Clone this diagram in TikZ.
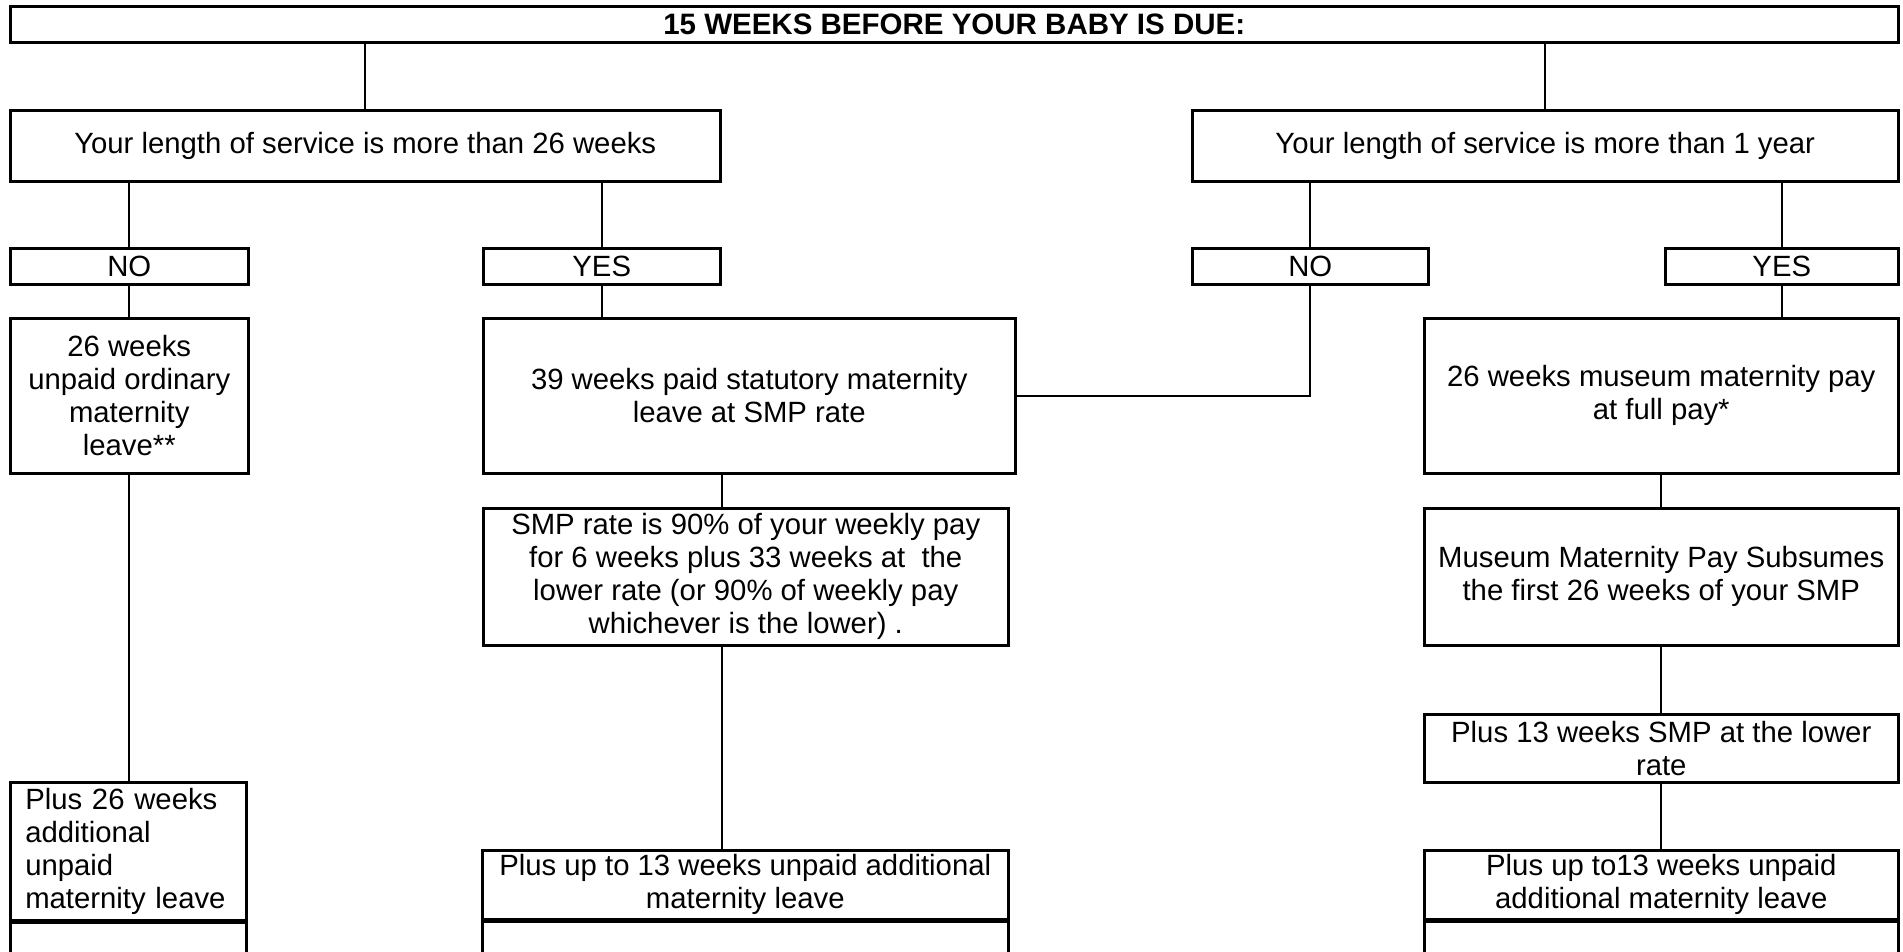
\documentclass[tikz,border=0pt]{standalone}
\usepackage{fontspec}
\setmainfont{Liberation Sans}
\usetikzlibrary{calc}
\tikzset{
  box/.style={draw, line width=2.5pt, inner sep=0pt, anchor=north west, align=center,
              font=\fontsize{29.3}{33}\selectfont},
  conn/.style={line width=2pt},
}
\begin{document}
\begin{tikzpicture}[x=1pt,y=-1pt]
\useasboundingbox (0,0) rectangle (1903,951);
\clip (0,0) rectangle (1903,951);
% title
\node[box, minimum width=1888pt, minimum height=36pt, font=\fontsize{29.5}{32}\selectfont\bfseries] (title) at (9,5) {15 WEEKS BEFORE YOUR BABY IS DUE:};
% service boxes
\node[box, minimum width=710pt, minimum height=71pt] (s26) at (9,109) {Your length of service is more than 26 weeks};
\node[box, minimum width=706pt, minimum height=71pt] (s1y) at (1191,109) {Your length of service is more than 1 year};
% yes/no
\node[box, minimum width=238pt, minimum height=36pt] (no1) at (9,247) {NO};
\node[box, minimum width=237pt, minimum height=36pt] (yes1) at (482,247) {YES};
\node[box, minimum width=236pt, minimum height=36pt] (no2) at (1191,247) {NO};
\node[box, minimum width=233pt, minimum height=36pt] (yes2) at (1664,247) {YES};
% second row
\node[box, minimum width=238pt, minimum height=155pt] (b26) at (9,317) {26 weeks\\unpaid ordinary\\maternity\\leave**};
\node[box, minimum width=532pt, minimum height=155pt] (b39) at (482,317) {39 weeks paid statutory maternity\\leave at SMP rate};
\node[box, minimum width=474pt, minimum height=155pt] (mus) at (1423,317) {26 weeks museum maternity pay\\at full pay*};
% third row
\node[box, minimum width=525pt, minimum height=137pt] (smp) at (482,507) {SMP rate is 90\% of your weekly pay\\for 6 weeks plus 33 weeks at \ the\\lower rate (or 90\% of weekly pay\\whichever is the lower) .};
\node[box, minimum width=474pt, minimum height=137pt] (mmp) at (1423,507) {Museum Maternity Pay Subsumes\\the first 26 weeks of your SMP};
\node[box, minimum width=474pt, minimum height=68pt] (p13smp) at (1423,713) {Plus 13 weeks SMP at the lower\\rate};
% bottom row
\node[box, text width=206pt, inner xsep=15pt, minimum height=138pt, align=left] (p26) at (9,781) {Plus 26 weeks\\additional\\unpaid\\maternity leave};
\node[box, minimum width=526pt, minimum height=69pt] (p13u) at (481,849) {Plus up to 13 weeks unpaid additional\\maternity leave};
\node[box, minimum width=474pt, minimum height=69pt] (p13u2) at (1423,849) {Plus up to13 weeks unpaid\\additional maternity leave};
% cut-off boxes below
\node[box, minimum width=236pt, minimum height=80pt] (c1) at (p26.south west) {};
\node[box, minimum width=526pt, minimum height=80pt] (c2) at (p13u.south west) {};
\node[box, minimum width=474pt, minimum height=80pt] (c3) at (p13u2.south west) {};
% connectors
\draw[conn] (title.south -| s26.north) -- (s26.north);
\draw[conn] (title.south -| s1y.north) -- (s1y.north);
\draw[conn] (s26.south -| no1.north) -- (no1.north);
\draw[conn] (s26.south -| yes1.north) -- (yes1.north);
\draw[conn] (s1y.south -| no2.north) -- (no2.north);
\draw[conn] (s1y.south -| yes2.north) -- (yes2.north);
\draw[conn] (no1.south) -- (b26.north);
\draw[conn] (yes1.south) -- (yes1.south |- b39.north);
\draw[conn] (yes2.south) -- (yes2.south |- mus.north);
\draw[conn] (no2.south) |- (b39.east);
\draw[conn] (b39.south -| yes1.east) -- (smp.north -| yes1.east);
\draw[conn] (mus.south) -- (mus.south |- mmp.north);
\draw[conn] (mmp.south) -- (mmp.south |- p13smp.north);
\draw[conn] (p13smp.south) -- (p13smp.south |- p13u2.north);
\draw[conn] (b26.south) -- (b26.south |- p26.north);
\draw[conn] (smp.south -| yes1.east) -- (p13u.north -| yes1.east);
\end{tikzpicture}
\end{document}
